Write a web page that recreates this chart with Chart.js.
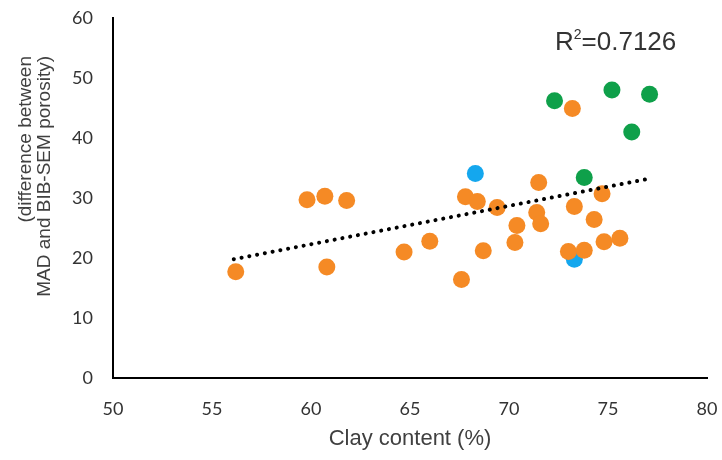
<!DOCTYPE html>
<html>
<head>
<meta charset="utf-8">
<script src="https://cdn.jsdelivr.net/npm/chart.js@4.4.1/dist/chart.umd.min.js"></script>
<style>
  html, body { margin: 0; padding: 0; background: #ffffff; }
  #wrap { width: 722px; height: 460px; position: relative; }
</style>
</head>
<body>
<div id="wrap"><canvas id="chart" width="722" height="460"></canvas></div>
<script>
// data
const orangeX = [56.2, 59.8, 60.7, 61.8, 60.8, 64.7, 66.0, 67.8, 68.4, 69.4, 67.6, 68.7, 70.3, 70.4, 71.4, 71.6, 71.5, 73.0, 73.3, 73.8, 74.3, 74.7, 74.8, 75.6, 73.2];
const orangeY = [17.7, 29.7, 30.3, 29.6, 18.5, 21.0, 22.8, 30.2, 29.4, 28.4, 16.4, 21.2, 22.6, 25.4, 27.6, 25.7, 32.6, 21.1, 28.6, 21.3, 26.4, 30.7, 22.7, 23.3, 44.9];
const blueX = [68.3, 73.3];
const blueY = [34.1, 19.8];
const greenX = [72.3, 75.2, 77.1, 76.2, 73.8];
const greenY = [46.2, 48.0, 47.3, 41.0, 33.4];
const trendX = [56.1, 76.9];
const trendY = [19.8, 33.1];

const xTicks = [50, 55, 60, 65, 70, 75, 80];
const yTicks = [0, 10, 20, 30, 40, 50, 60];
const yTitle = ['(difference between', 'MAD and BIB-SEM porosity)'];
const xTitle = 'Clay content (%)';
const rSquared = '0.7126';

const toPoints = (xs, ys) => xs.map((x, i) => ({ x: x, y: ys[i] }));

// y title + R² label drawn by hand
const extraText = {
  id: 'extraText',
  afterDraw(chart) {
    const ctx = chart.ctx;
    const area = chart.chartArea;
    ctx.save();
    ctx.fillStyle = '#404040';
    ctx.font = "19px 'Liberation Sans', Arial, sans-serif";
    ctx.textAlign = 'right';
    ctx.textBaseline = 'middle';
    const lineX = [area.left - 87, area.left - 68];
    yTitle.forEach((line, i) => {
      ctx.save();
      ctx.translate(lineX[i], area.top + 38);
      ctx.rotate(-Math.PI / 2);
      ctx.fillText(line, 0, 0);
      ctx.restore();
    });

    // R^2 label
    ctx.fillStyle = '#333333';
    ctx.textAlign = 'left';
    ctx.textBaseline = 'alphabetic';
    let x = area.left + 442;
    const y = area.top + 32;
    ctx.font = "26px 'Liberation Sans', Arial, sans-serif";
    ctx.fillText('R', x, y);
    x += ctx.measureText('R').width;
    ctx.font = "14px 'Liberation Sans', Arial, sans-serif";
    ctx.fillText('2', x, y - 11);
    x += ctx.measureText('2').width;
    ctx.font = "26px 'Liberation Sans', Arial, sans-serif";
    ctx.fillText('=' + rSquared, x, y);
    ctx.restore();
  }
};

new Chart(document.getElementById('chart'), {
  type: 'scatter',
  data: {
    datasets: [
      {
        type: 'line',
        data: toPoints(trendX, trendY),
        borderColor: '#000000',
        borderWidth: 4,
        borderDash: [0.1, 7.8],
        borderCapStyle: 'round',
        pointRadius: 0,
        fill: false,
        order: -1
      },
      {
        data: toPoints(orangeX, orangeY),
        backgroundColor: '#F58A25',
        borderWidth: 0,
        pointRadius: 8.5,
        order: 0
      },
      {
        data: toPoints(blueX, blueY),
        backgroundColor: '#14A7EE',
        borderWidth: 0,
        pointRadius: 8.5,
        order: 1
      },
      {
        data: toPoints(greenX, greenY),
        backgroundColor: '#0FA04A',
        borderWidth: 0,
        pointRadius: 8.5,
        order: 1
      }
    ]
  },
  options: {
    responsive: false,
    animation: false,
    devicePixelRatio: 1,
    layout: { padding: { top: 18, right: 15, left: 0, bottom: 0 } },
    plugins: {
      legend: { display: false },
      tooltip: { enabled: false }
    },
    scales: {
      x: {
        type: 'linear',
        min: 50,
        max: 80,
        afterBuildTicks: s => { s.ticks = xTicks.map(v => ({ value: v })); },
        afterFit: s => { s.height = 82; s.paddingLeft = 0; s.paddingRight = 0; },
        grid: { display: false, drawTicks: false },
        border: { display: true, color: '#000000', width: 2 },
        ticks: {
          padding: 20,
          color: '#333333',
          font: { family: 'Lato', size: 18 }
        },
        title: {
          display: true,
          text: xTitle,
          color: '#404040',
          font: { family: "'Liberation Sans', Arial", size: 22 },
          padding: { top: 4, bottom: 8 }
        }
      },
      y: {
        type: 'linear',
        min: 0,
        max: 60,
        afterBuildTicks: s => { s.ticks = yTicks.map(v => ({ value: v })); },
        afterFit: s => { s.width = 113; s.paddingTop = 0; s.paddingBottom = 0; },
        grid: { display: false, drawTicks: false },
        border: { display: true, color: '#000000', width: 2 },
        ticks: {
          padding: 20,
          color: '#333333',
          font: { family: 'Lato', size: 18 }
        }
      }
    }
  },
  plugins: [extraText]
});
</script>
</body>
</html>
